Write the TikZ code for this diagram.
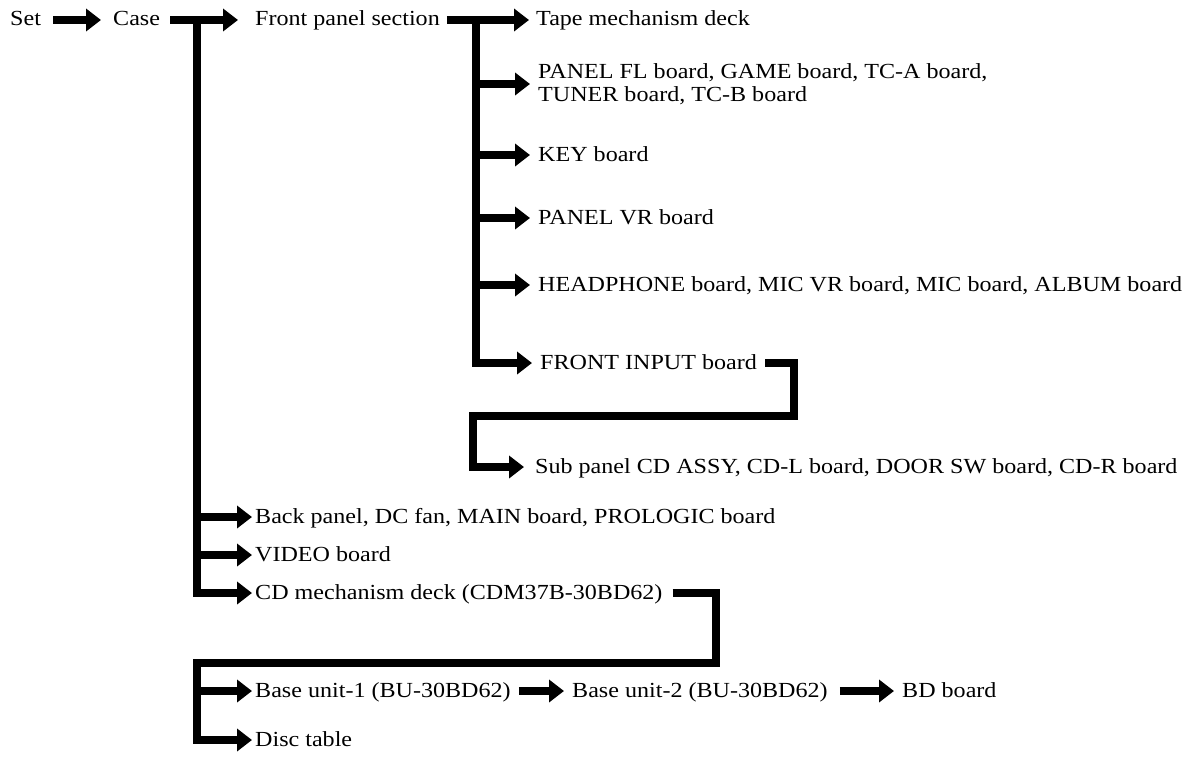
\documentclass[tikz,border=0pt]{standalone}
\usepackage{fontspec}
\setmainfont{Liberation Serif}[FakeStretch=1.12]
\usetikzlibrary{arrows.meta}
\begin{document}
\begin{tikzpicture}[x=1pt,y=-1pt,
  lbl/.style={inner sep=0pt, anchor=base west, font=\fontsize{21.5}{23}\selectfont},
  conn/.style={line width=7.5pt, line join=miter, line cap=butt},
  arr/.style={conn, -{Triangle[length=15pt,width=22pt]}}]
\useasboundingbox (0,0) rectangle (1194,760);
% labels
\node[lbl] (set) at (10,26) {Set};
\node[lbl] (case) at (113,26) {Case};
\node[lbl] (front) at (255,26) {Front panel section};
\node[lbl] (tape) at (536,26) {Tape mechanism deck};
\node[lbl, align=left] (panelfl) at (538,101) {PANEL FL board, GAME board, TC-A board,\\TUNER board, TC-B board};
\node[lbl] (key) at (538,161) {KEY board};
\node[lbl] (panelvr) at (538,224) {PANEL VR board};
\node[lbl] (head) at (538,291) {HEADPHONE board, MIC VR board, MIC board, ALBUM board};
\node[lbl] (finput) at (540,369) {FRONT INPUT board};
\node[lbl] (sub) at (535,473) {Sub panel CD ASSY, CD-L board, DOOR SW board, CD-R board};
\node[lbl] (back) at (255,523) {Back panel, DC fan, MAIN board, PROLOGIC board};
\node[lbl] (video) at (255,561) {VIDEO board};
\node[lbl] (cdm) at (255,599) {CD mechanism deck (CDM37B-30BD62)};
\node[lbl] (bu1) at (255,697) {Base unit-1 (BU-30BD62)};
\node[lbl] (bu2) at (572,697) {Base unit-2 (BU-30BD62)};
\node[lbl] (bd) at (902,697) {BD board};
\node[lbl] (disc) at (255,746) {Disc table};
% junctions
\coordinate (cv) at (197,20);
\coordinate (fv) at (476,20);
\coordinate (fi1) at (794,416);
\coordinate (fi2) at (473,416);
\coordinate (cd1) at (716,663);
\coordinate (cd2) at (197,663);
% top row
\draw[arr] ([xshift=12pt,yshift=6pt]set.base east) -- ([xshift=-12pt,yshift=6pt]case.base west);
\draw[arr] ([xshift=10pt,yshift=6pt]case.base east) -- ([xshift=-17pt,yshift=6pt]front.base west);
\draw[arr] ([xshift=7pt,yshift=6pt]front.base east) -- ([xshift=-7pt,yshift=6pt]tape.base west);
% front panel branches
\draw[arr] (fv) |- ([xshift=-8pt,yshift=17pt]panelfl.base west);
\draw[arr] (fv) |- ([xshift=-8pt,yshift=6pt]key.base west);
\draw[arr] (fv) |- ([xshift=-8pt,yshift=6pt]panelvr.base west);
\draw[arr] (fv) |- ([xshift=-8pt,yshift=6pt]head.base west);
\draw[arr] (fv) |- ([xshift=-8pt,yshift=6pt]finput.base west);
\draw[arr] ([xshift=8pt,yshift=6pt]finput.base east) -| (fi1) -- (fi2) |- ([xshift=-11pt,yshift=6pt]sub.base west);
% case branches
\draw[arr] (cv) |- ([xshift=-3pt,yshift=6pt]back.base west);
\draw[arr] (cv) |- ([xshift=-3pt,yshift=6pt]video.base west);
\draw[arr] (cv) |- ([xshift=-3pt,yshift=6pt]cdm.base west);
\draw[arr] ([xshift=10pt,yshift=6pt]cdm.base east) -| (cd1) -- (cd2) |- ([xshift=-3pt,yshift=6pt]disc.base west);
\draw[arr] (cd2) |- ([xshift=-3pt,yshift=6pt]bu1.base west);
\draw[arr] ([xshift=8pt,yshift=6pt]bu1.base east) -- ([xshift=-8pt,yshift=6pt]bu2.base west);
\draw[arr] ([xshift=12pt,yshift=6pt]bu2.base east) -- ([xshift=-8pt,yshift=6pt]bd.base west);
\end{tikzpicture}
\end{document}
